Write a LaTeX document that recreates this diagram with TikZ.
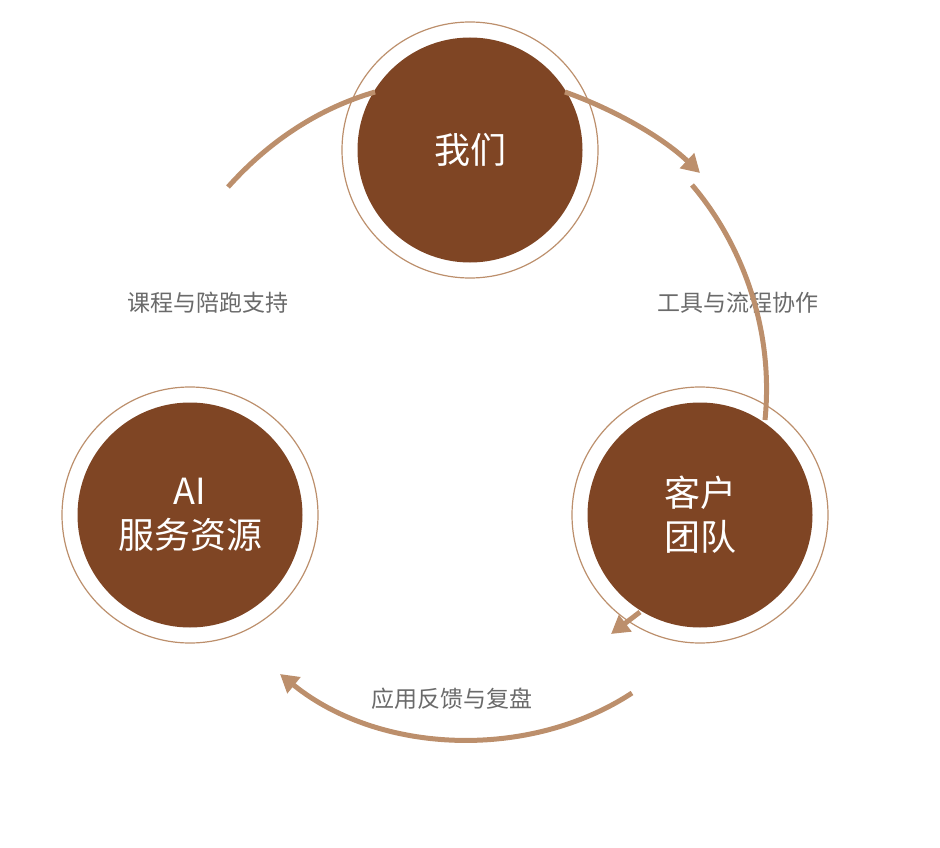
\documentclass[tikz,border=0pt]{standalone}
\usepackage{fontspec}
\setmainfont{Noto Sans CJK SC}
\usetikzlibrary{arrows.meta}
\definecolor{dk}{HTML}{7F4524}
\definecolor{lt}{HTML}{BC8F6C}
\definecolor{tx}{HTML}{6A6A6A}
\begin{document}
\begin{tikzpicture}[x=1pt,y=-1pt,
  outer/.style={circle,draw=lt,line width=1.2pt,minimum size=256pt,inner sep=0pt},
  inner/.style={circle,fill=dk,minimum size=225pt,inner sep=0pt,text=white,font=\fontsize{36}{44}\selectfont,align=center},
  lbl/.style={text=tx,font=\fontsize{23}{28}\selectfont},
  arc/.style={draw=lt,line width=5pt},
  arw/.style={arc,-{Triangle[length=18pt,width=20pt]}}]
\useasboundingbox (0,0) rectangle (940,848);
\node[outer] (o1) at (470,150) {};
\node[inner] (we) at (470,150) {我们};
\node[outer] (o2) at (700,515) {};
\node[inner] (kh) at (700,515) {客户\\团队};
\node[outer] (o3) at (190,515) {};
\node[inner] (ai) at (190,515) {AI\\服务资源};
\node[lbl] (l1) at (208,303) {课程与陪跑支持};
\node[lbl] (l2) at (738,303) {工具与流程协作};
\node[lbl] (l3) at (452,699) {应用反馈与复盘};
\coordinate (a1) at (228,187); \coordinate (a2) at (375,92);
\coordinate (b1) at (565,92); \coordinate (b2) at (700,173);
\coordinate (c1) at (692,185); \coordinate (c2) at (765,420);
\coordinate (d1) at (640,612); \coordinate (d2) at (611,634);
\coordinate (e1) at (632,693); \coordinate (e2) at (280,674);
\draw[arc] (a1) .. controls (270,140) and (320,108) .. (a2);
\draw[arw] (b1) .. controls (610,108) and (660,135) .. (b2);
\draw[arc] (c1) .. controls (735,235) and (775,320) .. (c2);
\draw[arw] (d1) -- (d2);
\draw[arw] (e1) .. controls (530,760) and (380,755) .. (e2);
\end{tikzpicture}
\end{document}
